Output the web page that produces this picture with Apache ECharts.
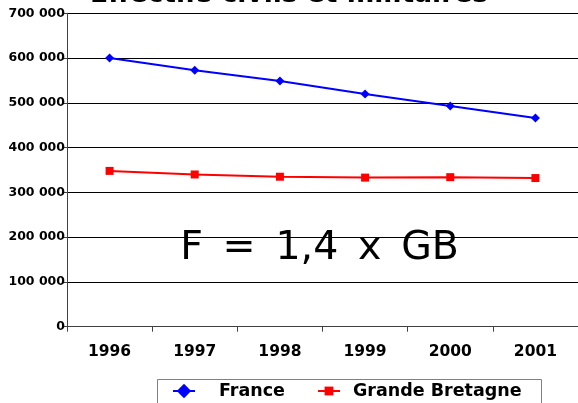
<!DOCTYPE html>
<html>
<head>
<meta charset="utf-8">
<script src="https://cdn.jsdelivr.net/npm/echarts@6/dist/echarts.min.js"></script>
<style>
  html, body { margin: 0; padding: 0; background: #fff; }
  #chart { width: 578px; height: 403px; }
</style>
</head>
<body>
<div id="chart"></div>
<script>
  // données
  const years = ['1996', '1997', '1998', '1999', '2000', '2001'];
  const france = [600000, 573000, 549000, 520000, 493000, 466000];
  const grandeBretagne = [348000, 340000, 335000, 333000, 334000, 332000];
  const yTicks = [0, 100000, 200000, 300000, 400000, 500000, 600000, 700000];
  const titleText = 'Effectifs civils et militaires';
  const ratioText = 'F\u2002=\u20021,4\u2002x\u2002GB';

  const font = 'DejaVu Sans';

  function fmt(v) {
    // 600000 -> "600 000"
    return String(v).replace(/\B(?=(\d{3})+(?!\d))/g, ' ');
  }

  const chart = echarts.init(document.getElementById('chart'));
  const option = {
    animation: false,
    title: {
      text: titleText,
      left: 'center',
      top: -18,
      padding: 0,
      textStyle: {fontFamily: font, fontWeight: 'bold', fontSize: 26.5, color: '#000'}
    },
    grid: {left: 67, right: -3, top: 13.3, bottom: 76.3, containLabel: false},
    xAxis: {
      type: 'category',
      data: years,
      boundaryGap: true,
      axisLine: {lineStyle: {color: '#404040', width: 1}},
      axisTick: {show: true, length: 5, lineStyle: {color: '#404040'}},
      axisLabel: {
        margin: 17,
        fontFamily: font, fontWeight: 'bold', fontSize: 15.5, color: '#000'
      }
    },
    yAxis: {
      type: 'value',
      min: yTicks[0],
      max: yTicks[yTicks.length - 1],
      interval: yTicks[1] - yTicks[0],
      axisLine: {show: true, lineStyle: {color: '#404040', width: 1}},
      axisTick: {show: true, length: 5, lineStyle: {color: '#404040'}},
      splitLine: {lineStyle: {color: '#000', width: 1}},
      axisLabel: {
        margin: 2,
        formatter: fmt,
        fontFamily: font, fontWeight: 'bold', fontSize: 12.5, color: '#000'
      }
    },
    legend: [
      {
        data: ['France'],
        left: 172, top: 382, padding: 0,
        itemWidth: 22, itemHeight: 18,
        textStyle: {fontFamily: font, fontWeight: 'bold', fontSize: 17.5, color: '#000', padding: [0, 0, 0, 19]}
      },
      {
        data: ['Grande Bretagne'],
        left: 317, top: 382, padding: 0,
        itemWidth: 22, itemHeight: 11,
        textStyle: {fontFamily: font, fontWeight: 'bold', fontSize: 17.5, color: '#000', padding: [0, 0, 0, 8]}
      }
    ],
    graphic: [
      {
        type: 'rect',
        shape: {x: 157.5, y: 379.5, width: 384, height: 40},
        style: {fill: 'none', stroke: '#808080', lineWidth: 1}
      },
      {
        type: 'text',
        x: 319.5, y: 249,
        style: {
          text: ratioText,
          fontFamily: font, fontSize: 39.5, fill: '#000',
          textAlign: 'center', textVerticalAlign: 'middle'
        }
      }
    ],
    series: [
      {
        name: 'France',
        type: 'line',
        data: france,
        symbol: 'diamond',
        symbolSize: 9,
        lineStyle: {color: '#0000ff', width: 2},
        itemStyle: {color: '#0000ff'}
      },
      {
        name: 'Grande Bretagne',
        type: 'line',
        data: grandeBretagne,
        symbol: 'rect',
        symbolSize: 8,
        lineStyle: {color: '#ff0000', width: 2},
        itemStyle: {color: '#ff0000'}
      }
    ]
  };
  chart.setOption(option);
</script>
</body>
</html>
